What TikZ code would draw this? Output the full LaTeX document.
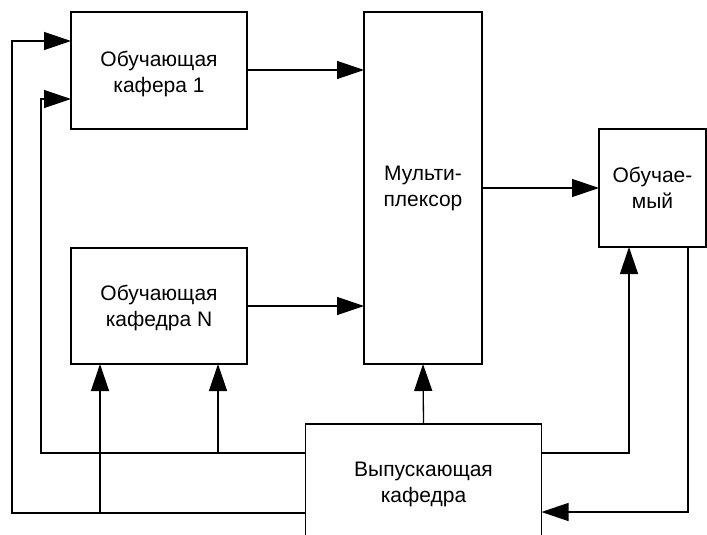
\documentclass[tikz,border=0pt]{standalone}
\usepackage{fontspec}
\setmainfont{Liberation Sans}
\usetikzlibrary{arrows.meta,calc}
\begin{document}
\begin{tikzpicture}[x=1pt,y=-1pt,
  box/.style={draw,line width=1.3pt,fill=white,inner sep=0pt,outer sep=0pt},
  txt/.style={inner sep=0pt,align=center,font=\fontsize{21}{26}\selectfont},
  arr/.style={line width=1.3pt,-{Triangle[length=27pt,width=18pt]}}]
\clip (0,0) rectangle (707,535);
\useasboundingbox (0,0) rectangle (707,535);
\node[box,minimum width=176pt,minimum height=117pt] (k1) at (159,70.5) {};
\node[box,minimum width=176pt,minimum height=116pt] (kn) at (159,306) {};
\node[box,minimum width=118pt,minimum height=352pt] (mux) at (423,188) {};
\node[box,minimum width=107pt,minimum height=118pt] (ob) at (652.5,188) {};
\node[box,minimum width=236pt,minimum height=121pt] (vyp) at (423.5,484.5) {};
\node[txt] (k1t) at ([yshift=-3.5pt]k1.center) {Обучающая\\кафера 1};
\node[txt] (knt) at ([yshift=-2pt]kn.center) {Обучающая\\кафедра N};
\node[txt] (muxt) at (mux.center) {Мульти-\\плексор};
\node[txt] (obt) at (ob.center) {Обучае-\\мый};
\node[txt] (vypt) at (vyp.center) {Выпускающая\\кафедра};
% top connections
\draw[arr] (k1.east |- 0,70) -- (mux.west |- 0,70);
\draw[arr] (kn.east) -- (mux.west |- kn.east);
\draw[arr] (mux.east) -- (ob.west);
\draw[arr] (vyp.north) -- (mux.south);
% right loop
\coordinate (r1) at (629,453);
\coordinate (r2) at (688,512);
\draw[arr] (vyp.east |- r1) -- (r1) -- (ob.south -| r1);
\draw[arr] (ob.south -| r2) -- (r2) -- (vyp.east |- r2);
% left loops
\coordinate (l1) at (41,453);
\coordinate (l1t) at (41,99);
\coordinate (b1) at (218,453);
\coordinate (l2) at (12,513);
\coordinate (l2t) at (12,41);
\coordinate (b2) at (100,513);
\draw[arr] (vyp.west |- l1) -- (l1) -- (l1t) -- (k1.west |- l1t);
\draw[arr] (b1) -- (kn.south -| b1);
\draw[arr] (vyp.west |- l2) -- (l2) -- (l2t) -- (k1.west |- l2t);
\draw[arr] (b2) -- (kn.south -| b2);
\end{tikzpicture}
\end{document}
